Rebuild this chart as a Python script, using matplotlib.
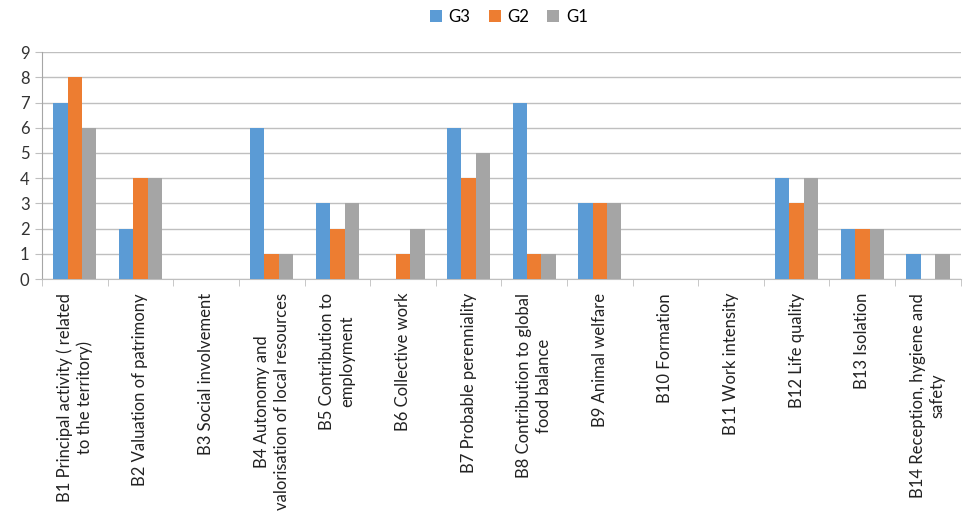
import matplotlib
matplotlib.use("Agg")
import matplotlib.pyplot as plt
import numpy as np

categories = [
    "B1 Principal activity ( related\nto the territory)",
    "B2 Valuation of patrimony",
    "B3 Social involvement",
    "B4 Autonomy and\nvalorisation of local resources",
    "B5 Contribution to\nemployment",
    "B6 Collective work",
    "B7 Probable perenniality",
    "B8 Contribution to global\nfood balance",
    "B9 Animal welfare",
    "B10 Formation",
    "B11 Work intensity",
    "B12 Life quality",
    "B13 Isolation",
    "B14 Reception, hygiene and\nsafety",
]
g3 = [7, 2, 0, 6, 3, 0, 6, 7, 3, 0, 0, 4, 2, 1]
g2 = [8, 4, 0, 1, 2, 1, 4, 1, 3, 0, 0, 3, 2, 0]
g1 = [6, 4, 0, 1, 3, 2, 5, 1, 3, 0, 0, 4, 2, 1]
series_names = ["G3", "G2", "G1"]
colors = ["#5B9BD5", "#ED7D31", "#A5A5A5"]

plt.rcParams['font.family'] = ['Lato', 'DejaVu Sans']

fig = plt.figure(figsize=(9.64, 5.11), dpi=100)
ax = fig.add_axes([0.0436, 0.454, 0.953, 0.444])

x = np.arange(len(categories))
w = 0.22
for i, (vals, name, c) in enumerate(zip([g3, g2, g1], series_names, colors)):
    ax.bar(x + (i - 1) * w, vals, width=w, color=c, label=name, zorder=3)

ax.set_xlim(-0.5, len(categories) - 0.5)
ax.set_ylim(0, 9)
ax.set_yticks(range(0, 10))
ax.tick_params(axis='y', labelsize=12, length=5, color='#BFBFBF', labelcolor='#333333', pad=4)
ax.grid(axis='y', color='#BFBFBF', linewidth=1, zorder=0)

ax.set_xticks(x)
ax.set_xticklabels(categories, rotation=90, fontsize=12, multialignment='center',
                   color='#222222', linespacing=1.3)
ax.tick_params(axis='x', length=0, pad=10)
ax.set_xticks(np.arange(-0.5, len(categories)), minor=True)
ax.tick_params(axis='x', which='minor', length=5, color='#BFBFBF')

for s in ['top', 'right']:
    ax.spines[s].set_visible(False)
ax.spines['left'].set_color('#A6A6A6')
ax.spines['bottom'].set_color('#BFBFBF')

fig.legend(loc='upper center', bbox_to_anchor=(0.528, 1.012), ncol=3, frameon=False,
           fontsize=12, handlelength=0.7, handleheight=0.7, handletextpad=0.4, columnspacing=1.1)

fig.savefig("out.png", dpi=100)
